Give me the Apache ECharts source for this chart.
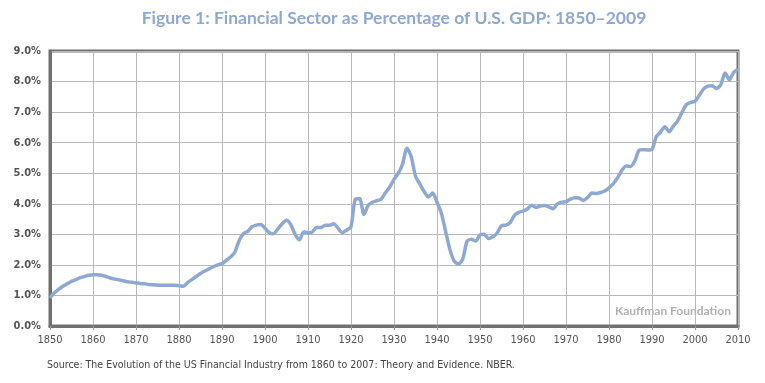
<!DOCTYPE html>
<html><head><meta charset="utf-8">
<script src="https://cdn.jsdelivr.net/npm/echarts@6/dist/echarts.min.js"></script>
<style>html,body{margin:0;padding:0;background:#fff}#c{width:765px;height:383px}</style>
</head><body><div id="c"></div>
<script>
const titleText = "Figure 1: Financial Sector as Percentage of U.S. GDP: 1850\u20132009";
const sourceText = "Source: The Evolution of the US Financial Industry from 1860 to 2007: Theory and Evidence. NBER.";
const watermark = "Kauffman Foundation";
const yTicks = [0,1,2,3,4,5,6,7,8,9];
const xTicks = [1850,1860,1870,1880,1890,1900,1910,1920,1930,1940,1950,1960,1970,1980,1990,2000,2010];
const years = [];
for (let y = 1850; y <= 2010; y++) years.push(y);
const shares = [
 0.92,1.08,1.20,1.30,1.38,1.46,1.52,1.58,1.62,1.66,
 1.68,1.68,1.66,1.62,1.57,1.54,1.51,1.48,1.45,1.43,
 1.41,1.39,1.38,1.36,1.35,1.34,1.33,1.33,1.33,1.33,
 1.32,1.30,1.42,1.52,1.62,1.72,1.80,1.87,1.94,2.00,
 2.04,2.15,2.26,2.42,2.80,3.02,3.10,3.25,3.30,3.32,
 3.20,3.05,3.02,3.18,3.35,3.46,3.32,3.00,2.82,3.08,
 3.05,3.08,3.22,3.22,3.30,3.30,3.35,3.20,3.05,3.14,
 3.25,4.15,4.17,3.65,3.95,4.05,4.10,4.15,4.36,4.55,
 4.80,5.00,5.30,5.82,5.55,4.90,4.65,4.40,4.22,4.35,
 4.05,3.70,3.10,2.50,2.12,2.03,2.20,2.78,2.84,2.78,
 2.98,3.00,2.86,2.92,3.05,3.28,3.30,3.38,3.62,3.72,
 3.76,3.83,3.95,3.88,3.93,3.94,3.90,3.84,4.00,4.05,
 4.07,4.15,4.20,4.19,4.11,4.20,4.35,4.34,4.37,4.42,
 4.52,4.66,4.85,5.10,5.24,5.22,5.40,5.75,5.77,5.76,
 5.78,6.20,6.35,6.52,6.36,6.55,6.72,7.00,7.25,7.32,
 7.36,7.55,7.76,7.85,7.86,7.77,7.90,8.28,8.06,8.30,
 8.40
];
const condensed = "'DejaVu Sans Condensed', 'Liberation Sans Narrow', Roboto, sans-serif";
const chart = echarts.init(document.getElementById('c'), null, {renderer:'canvas'});
chart.setOption({
  animation:false,
  backgroundColor:'#fff',
  graphic:[
    {type:'text',x:394,y:9,style:{text:titleText,textAlign:'center',fontFamily:'Lato',fontWeight:'bold',fontSize:17.5,fill:'#8fa8cf'}},
    {type:'text',x:47,y:360,style:{text:sourceText,fontFamily:condensed,fontSize:10.5,fill:'#444'}},
    {type:'text',right:34,top:305,style:{text:watermark,fontFamily:'Lato',fontWeight:'bold',fontSize:12,fill:'#b0b0b0'}}
  ],
  grid:{left:50,right:27,top:51,bottom:57,show:true,borderColor:'#707070',borderWidth:3,backgroundColor:'transparent'},
  xAxis:{type:'value',min:1850,max:2010,interval:10,
    axisLine:{show:true,lineStyle:{color:'#707070',width:3}},
    axisTick:{show:true,length:4,lineStyle:{color:'#999'}},
    splitLine:{show:true,lineStyle:{color:'#b8b8b8',width:1}},
    axisLabel:{margin:9,fontFamily:condensed,fontSize:11,color:'#555',formatter:v=>String(v)}},
  yAxis:{type:'value',min:0,max:9,interval:1,
    axisLine:{show:true,lineStyle:{color:'#707070',width:3}},
    axisTick:{show:false},
    splitLine:{show:true,lineStyle:{color:'#b8b8b8',width:1}},
    axisLabel:{margin:9,fontFamily:condensed,fontWeight:'bold',fontSize:11,color:'#555',formatter:v=>v.toFixed(1)+'%'}},
  series:[{type:'line',data:years.map((y,i)=>[y,shares[i]]),showSymbol:false,smooth:0.25,
    lineStyle:{color:'#8ea9d1',width:3.5},clip:false}]
});
</script></body></html>
